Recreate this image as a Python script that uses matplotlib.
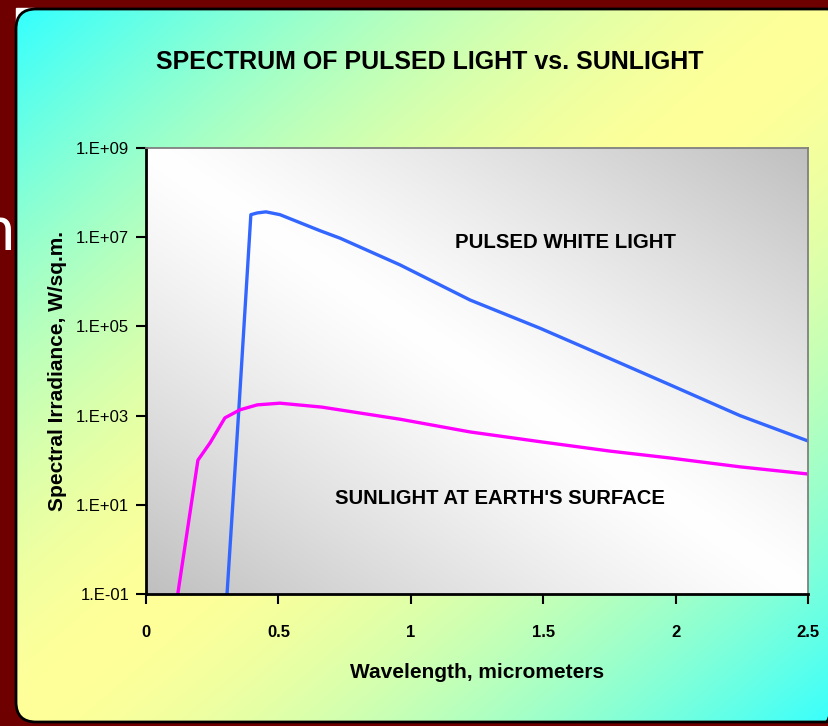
import numpy as np
import matplotlib.pyplot as plt
from matplotlib.patches import FancyBboxPatch, Rectangle
from matplotlib.ticker import NullLocator

# values (wavelength in micrometers, irradiance in W/sq.m.)
pulsed_x = [0.306, 0.351, 0.396, 0.42, 0.453, 0.506, 0.657, 0.733, 0.959,
            1.224, 1.488, 1.752, 1.979, 2.243, 2.5]
pulsed_y = [0.1, 1.5e3, 3.2e7, 3.5e7, 3.7e7, 3.2e7, 1.4e7, 9.5e6, 2.4e6,
            3.9e5, 9.1e4, 1.9e4, 4.9e3, 1.0e3, 2.7e2]

sun_x = [0.12, 0.196, 0.242, 0.298, 0.355, 0.42, 0.506, 0.664, 0.959,
         1.224, 1.488, 1.752, 1.979, 2.243, 2.5]
sun_y = [0.1, 100, 245, 890, 1350, 1740, 1900, 1550, 830,
         430, 260, 160, 112, 71, 49]

x_ticks = [0, 0.5, 1, 1.5, 2, 2.5]
x_labels = ['0', '0.5', '1', '1.5', '2', '2.5']
y_ticks = [1e-1, 1e1, 1e3, 1e5, 1e7, 1e9]
y_labels = ['1.E-01', '1.E+01', '1.E+03', '1.E+05', '1.E+07', '1.E+09']

SANS = ['Liberation Sans', 'DejaVu Sans']
W, H = 829, 726

fig = plt.figure(figsize=(W / 100, H / 100), dpi=100)
fig.patch.set_facecolor('#6e0000')

# bit of slide text peeking out behind the chart panel
fig.text(15 / W, 1 - 250 / H, 'n', color='white', fontsize=44,
         family=['Lato', 'DejaVu Sans'], ha='right', va='baseline', zorder=0)

# rounded panel with cyan/yellow gradient
bg = fig.add_axes([0, 0, 1, 1], zorder=1)
bg.set_xlim(0, W)
bg.set_ylim(H, 0)
bg.axis('off')
bg.add_patch(Rectangle((16, 8), 18, 16, color='white'))
panel = FancyBboxPatch((16, 9), 830, 713, boxstyle='round,pad=0,rounding_size=20',
                       facecolor='none', edgecolor='black', lw=2, zorder=3)
bg.add_patch(panel)
u, v = np.meshgrid(np.linspace(0, 1, 300), np.linspace(0, 1, 300))
f = (np.abs(u + v - 1) ** 1.6)[..., None]
cyan = np.array([0.2, 1.0, 1.0])
yellow = np.array([1.0, 1.0, 0.6])
img = yellow * (1 - f) + cyan * f
im = bg.imshow(img, extent=(16, 846, 722, 9), aspect='auto', zorder=2)
im.set_clip_path(panel)

# plot area with gray/white gradient
rect = [146 / W, 1 - 594 / H, 662 / W, 446 / H]
pa = fig.add_axes(rect, zorder=2)
g = (np.abs(u + (1 - v) - 1) ** 1.2)[..., None]
gray = np.array([0.75, 0.75, 0.75])
pa.imshow(np.ones(3) * (1 - g) + gray * g, extent=(0, 1, 0, 1), aspect='auto')
pa.axis('off')

ax = fig.add_axes(rect, zorder=3)
ax.set_facecolor('none')
ax.plot(pulsed_x, pulsed_y, color='#3366ff', lw=2.4)
ax.plot(sun_x, sun_y, color='#ff00ff', lw=2.4)
ax.set_yscale('log')
ax.set_xlim(0, 2.5)
ax.set_ylim(0.1, 1e9)
ax.yaxis.set_minor_locator(NullLocator())
ax.set_xticks(x_ticks)
ax.set_xticklabels(x_labels, family=SANS, fontweight='bold', fontsize=12)
ax.set_yticks(y_ticks)
ax.set_yticklabels(y_labels, family=SANS, fontsize=12)
ax.tick_params(axis='both', direction='out', length=7, width=1.5, colors='black')
ax.tick_params(axis='x', pad=15)
ax.tick_params(axis='y', pad=5)
for s in ['left', 'bottom']:
    ax.spines[s].set_linewidth(2)
for s in ['top', 'right']:
    ax.spines[s].set_color('#808080')
    ax.spines[s].set_linewidth(1.3)

ax.set_xlabel('Wavelength, micrometers', family=SANS, fontweight='bold',
              fontsize=15, va='center')
ax.xaxis.set_label_coords(0.50, -0.175)
ax.set_ylabel('Spectral Irradiance, W/sq.m.', family=SANS,
              fontweight='bold', fontsize=15, va='center')
ax.yaxis.set_label_coords(-0.133, 0.5)

ax.text(0.633, 0.787, 'PULSED WHITE LIGHT', transform=ax.transAxes, family=SANS,
        fontweight='bold', fontsize=14.7, ha='center', va='center')
ax.text(0.535, 0.215, "SUNLIGHT AT EARTH'S SURFACE", transform=ax.transAxes,
        family=SANS, fontweight='bold', fontsize=14.6, ha='center', va='center')

fig.text(430 / W, 1 - 62 / H, 'SPECTRUM OF PULSED LIGHT vs. SUNLIGHT', family=SANS,
         fontweight='bold', fontsize=18, ha='center', va='center', zorder=5)

fig.savefig('out.png', dpi=100, facecolor=fig.get_facecolor())
